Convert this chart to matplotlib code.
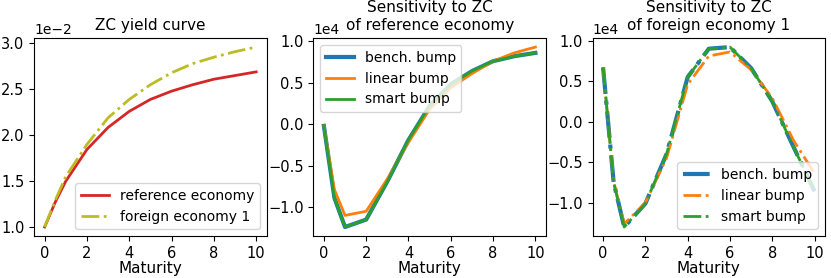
import numpy as np
import matplotlib
matplotlib.use('Agg')
import matplotlib.pyplot as plt

plt.rcParams['font.size'] = 11
plt.rcParams['legend.fontsize'] = 10
plt.rcParams['xtick.labelsize'] = 10.5
plt.rcParams['ytick.labelsize'] = 10.5

# maturities (years)
maturity = [0, 0.5, 1, 2, 3, 4, 5, 6, 7, 8, 9, 10]

# ZC yield curves
zc_reference = np.array([1.0, 1.27, 1.50, 1.845, 2.085, 2.26, 2.39, 2.48, 2.55, 2.61, 2.65, 2.69]) * 1e-2
zc_foreign = np.array([1.0, 1.29, 1.55, 1.90, 2.19, 2.39, 2.55, 2.68, 2.78, 2.85, 2.91, 2.96]) * 1e-2

# sensitivity to ZC of reference economy
ref_bench = np.array([-0.02, -0.89, -1.24, -1.15, -0.69, -0.19, 0.22, 0.48, 0.64, 0.76, 0.82, 0.86]) * 1e4
ref_linear = np.array([-0.02, -0.79, -1.10, -1.05, -0.66, -0.22, 0.18, 0.44, 0.61, 0.76, 0.86, 0.93]) * 1e4
ref_smart = np.array([-0.02, -0.89, -1.24, -1.15, -0.69, -0.19, 0.22, 0.48, 0.64, 0.76, 0.82, 0.86]) * 1e4

# sensitivity to ZC of foreign economy 1
for_bench = np.array([0.67, -0.75, -1.30, -1.01, -0.40, 0.55, 0.90, 0.92, 0.66, 0.25, -0.31, -0.86]) * 1e4
for_linear = np.array([0.67, -0.74, -1.26, -1.00, -0.45, 0.46, 0.81, 0.86, 0.64, 0.29, -0.23, -0.64]) * 1e4
for_smart = np.array([0.67, -0.75, -1.30, -1.01, -0.40, 0.55, 0.90, 0.92, 0.66, 0.25, -0.31, -0.86]) * 1e4

fig, axes = plt.subplots(1, 3, figsize=(8.31, 2.78), dpi=100)
fig.subplots_adjust(left=0.041, right=0.993, top=0.863, bottom=0.151, wspace=0.2)

ax = axes[0]
ax.plot(maturity, zc_reference, color='C3', lw=2, label='reference economy')
ax.plot(maturity, zc_foreign, color='C8', lw=2, ls='-.', label='foreign economy 1')
ax.set_title('ZC yield curve', fontsize=11)
ax.legend(loc='lower right')

ax = axes[1]
ax.plot(maturity, ref_bench, color='C0', lw=3, label='bench. bump')
ax.plot(maturity, ref_linear, color='C1', lw=2, label='linear bump')
ax.plot(maturity, ref_smart, color='C2', lw=2, label='smart bump')
ax.set_title('Sensitivity to ZC\nof reference economy', fontsize=11)
ax.legend(loc='upper left')

ax = axes[2]
ax.plot(maturity, for_bench, color='C0', lw=3, ls='-.', label='bench. bump')
ax.plot(maturity, for_linear, color='C1', lw=2, ls='-.', label='linear bump')
ax.plot(maturity, for_smart, color='C2', lw=2, ls='-.', label='smart bump')
ax.set_title('Sensitivity to ZC\nof foreign economy 1', fontsize=11)
ax.legend(loc='lower right')

for ax in axes:
    ax.set_xlabel('Maturity', labelpad=0)
    ax.ticklabel_format(axis='y', style='sci', scilimits=(0, 0))
    ax.yaxis.get_offset_text().set_fontsize(10)
    ax.set_xticks([0, 2, 4, 6, 8, 10])

fig.savefig('out.png', dpi=100)
